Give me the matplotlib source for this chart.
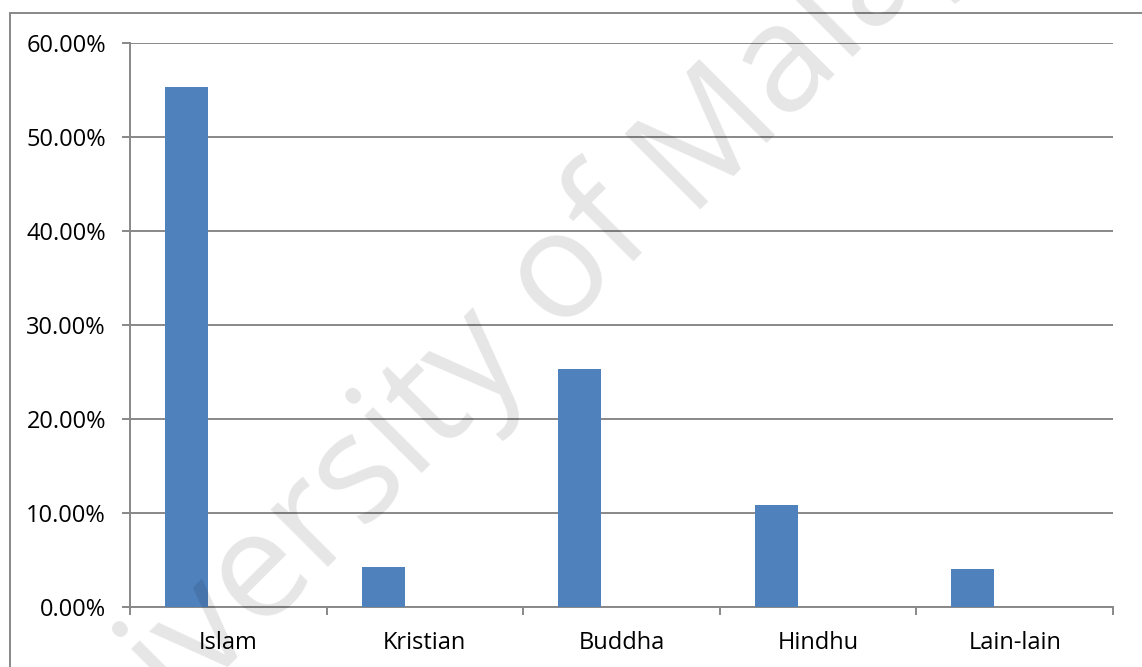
import matplotlib.pyplot as plt
import numpy as np
from matplotlib.patches import Rectangle
from matplotlib.ticker import FuncFormatter

categories = ["Islam", "Kristian", "Buddha", "Hindhu", "Lain-lain"]
shares = [55.35, 4.22, 25.3, 10.85, 4.04]
y_ticks = [0, 10, 20, 30, 40, 50, 60]

plt.rcParams['font.family'] = ['Open Sans', 'DejaVu Sans']

fig = plt.figure(figsize=(11.42, 6.67), dpi=100)
ax = fig.add_axes([0.1138, 0.09, 0.8608, 0.8455])

x = np.arange(len(categories))
ax.bar(x - 0.2125, shares, width=0.219, color="#4f81bd", zorder=3)

ax.set_xlim(-0.5, len(categories) - 0.5)
ax.set_ylim(0, 60)
ax.set_yticks(y_ticks)
ax.yaxis.set_major_formatter(FuncFormatter(lambda v, p: "%.2f%%" % v))
ax.grid(axis="y", color="#888888", linewidth=1.4, zorder=0)

# category labels centred, ticks at the boundaries
ax.set_xticks(x)
ax.set_xticklabels(categories)
ax.set_xticks(np.arange(len(categories) + 1) - 0.5, minor=True)
ax.tick_params(axis="x", which="major", length=0, pad=17, labelsize=17)
ax.tick_params(axis="x", which="minor", length=5.8, width=1.4, color="#888888", direction="out")
ax.tick_params(axis="y", length=5.8, width=1.4, color="#888888", pad=11.5, labelsize=17)

for side in ["top", "right"]:
    ax.spines[side].set_visible(False)
for side in ["left", "bottom"]:
    ax.spines[side].set_color("#888888")
    ax.spines[side].set_linewidth(1.4)

# outer frame of the chart area
fig.patches.append(Rectangle((0.0088, -0.2), 1.2, 0.9805 + 0.2, transform=fig.transFigure,
                             fill=False, edgecolor="#888888", linewidth=1.4))

# faint watermark, split at the "M" so it can be anchored there
wm = dict(rotation=45, rotation_mode="anchor", va="baseline", fontsize=108,
          color="black", alpha=0.1, zorder=10)
fig.text(0.5760, 0.6440, "University of", ha="right", **wm)
fig.text(0.6005, 0.6860, "Malaya", ha="left", **wm)

fig.savefig("out.png", dpi=100)
